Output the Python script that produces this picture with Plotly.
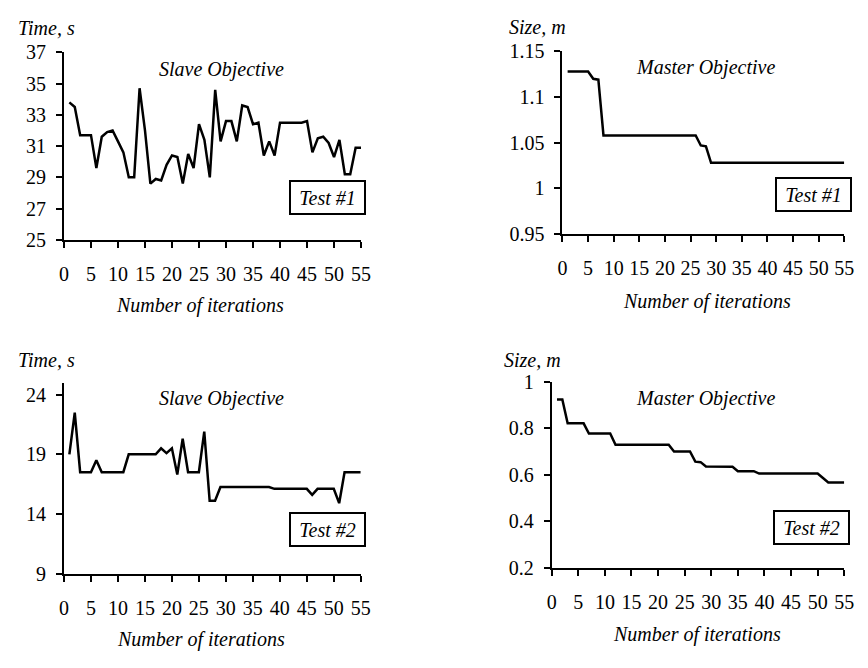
import plotly.graph_objects as go

# ---------------- data ----------------
iterations = list(range(1, 56))

slave_test1 = [33.8, 33.5, 31.7, 31.7, 31.7, 29.6, 31.6, 31.9, 32.0, 31.3,
               30.6, 29.0, 29.0, 34.7, 32.0, 28.6, 28.9, 28.8, 29.8, 30.4,
               30.3, 28.6, 30.5, 29.6, 32.4, 31.4, 29.0, 34.6, 31.3, 32.6,
               32.6, 31.3, 33.6, 33.5, 32.4, 32.5, 30.4, 31.3, 30.4, 32.5,
               32.5, 32.5, 32.5, 32.5, 32.6, 30.6, 31.5, 31.6, 31.2, 30.3,
               31.4, 29.2, 29.2, 30.9, 30.9]

master_test1 = [1.128, 1.128, 1.128, 1.128, 1.128, 1.120, 1.119, 1.058, 1.058, 1.058,
                1.058, 1.058, 1.058, 1.058, 1.058, 1.058, 1.058, 1.058, 1.058, 1.058,
                1.058, 1.058, 1.058, 1.058, 1.058, 1.058, 1.047, 1.046, 1.028, 1.028,
                1.028, 1.028, 1.028, 1.028, 1.028, 1.028, 1.028, 1.028, 1.028, 1.028,
                1.028, 1.028, 1.028, 1.028, 1.028, 1.028, 1.028, 1.028, 1.028, 1.028,
                1.028, 1.028, 1.028, 1.028, 1.028]

slave_test2 = [19.0, 22.5, 17.5, 17.5, 17.5, 18.5, 17.5, 17.5, 17.5, 17.5,
               17.5, 19.0, 19.0, 19.0, 19.0, 19.0, 19.0, 19.5, 19.1, 19.5,
               17.3, 20.3, 17.5, 17.5, 17.5, 20.9, 15.1, 15.1, 16.25, 16.25,
               16.25, 16.25, 16.25, 16.25, 16.25, 16.25, 16.25, 16.25, 16.1, 16.1,
               16.1, 16.1, 16.1, 16.1, 16.1, 15.6, 16.1, 16.1, 16.1, 16.1,
               14.9, 17.5, 17.5, 17.5, 17.5]

master_test2 = [0.923, 0.923, 0.821, 0.821, 0.821, 0.821, 0.777, 0.777, 0.777, 0.777,
                0.777, 0.729, 0.729, 0.729, 0.729, 0.729, 0.729, 0.729, 0.729, 0.729,
                0.729, 0.729, 0.700, 0.700, 0.700, 0.700, 0.656, 0.654, 0.635, 0.635,
                0.635, 0.635, 0.635, 0.634, 0.615, 0.615, 0.615, 0.615, 0.605, 0.605,
                0.605, 0.605, 0.605, 0.605, 0.605, 0.605, 0.605, 0.605, 0.605, 0.605,
                0.586, 0.567, 0.567, 0.567, 0.567]

x_ticks = [0, 5, 10, 15, 20, 25, 30, 35, 40, 45, 50, 55]
y_ticks_time1 = [25, 27, 29, 31, 33, 35, 37]
y_ticks_size1 = [0.95, 1.0, 1.05, 1.1, 1.15]
y_ticks_size1_text = ["0.95", "1", "1.05", "1.1", "1.15"]
y_ticks_time2 = [9, 14, 19, 24]
y_ticks_size2 = [0.2, 0.4, 0.6, 0.8, 1.0]
y_ticks_size2_text = ["0.2", "0.4", "0.6", "0.8", "1"]

# ---------------- layout helpers ----------------
W, H = 868, 668
FONT = "Liberation Serif, Times New Roman, Times, serif"
FS = 20


def px_x(p):
    return p / W


def px_y(p):
    return 1 - p / H


fig = go.Figure()

panels = [
    # (xaxis, yaxis, y data, x pixel domain, y pixel domain(bottom, top))
    ("x", "y", slave_test1, (60, 362.3), (236.7, 42.7)),
    ("x2", "y2", master_test1, (567.3, 854), (230.7, 41.7)),
    ("x3", "y3", slave_test2, (60, 362), (581.7, 384.4)),
    ("x4", "y4", master_test2, (556.3, 854), (575.7, 383.3)),
]

for xa, ya, ydata, _, _ in panels:
    fig.add_trace(go.Scatter(x=iterations, y=ydata, mode="lines",
                             line=dict(color="black", width=2.5),
                             xaxis=xa, yaxis=ya, showlegend=False,
                             hoverinfo="skip"))

axis_common = dict(showline=True, linecolor="black", linewidth=2,
                   ticks="outside", ticklen=6, tickwidth=2, tickcolor="black",
                   showgrid=False, zeroline=False,
                   tickfont=dict(family=FONT, size=FS, color="black"))

y_specs = [
    dict(range=[25, 37], tickvals=y_ticks_time1, ticktext=[str(v) for v in y_ticks_time1]),
    dict(range=[0.95, 1.15], tickvals=y_ticks_size1, ticktext=y_ticks_size1_text),
    dict(range=[9, 25], tickvals=y_ticks_time2, ticktext=[str(v) for v in y_ticks_time2]),
    dict(range=[0.2, 1.0], tickvals=y_ticks_size2, ticktext=y_ticks_size2_text),
]

layout_axes = {}
for i, (xa, ya, _, xdom, ydom) in enumerate(panels):
    xname = "xaxis" if i == 0 else f"xaxis{i + 1}"
    yname = "yaxis" if i == 0 else f"yaxis{i + 1}"
    layout_axes[xname] = dict(axis_common, domain=[px_x(xdom[0]), px_x(xdom[1])],
                              range=[0, 55], tickvals=x_ticks,
                              anchor=ya, ticklabelstandoff=9)
    layout_axes[yname] = dict(axis_common, domain=[px_y(ydom[0]), px_y(ydom[1])],
                              anchor=xa, ticklabelstandoff=6, **y_specs[i])

fig.update_layout(**layout_axes)

annots = []


def text(t, cx, cy, box=False):
    d = dict(text=t, x=px_x(cx), y=px_y(cy), xref="paper", yref="paper",
             xanchor="center", yanchor="middle", showarrow=False,
             font=dict(family=FONT, size=FS, color="black"))
    if box:
        d.update(bordercolor="black", borderwidth=2, borderpad=1,
                 width=71, height=29, bgcolor="white")
    annots.append(d)


text("<i>Time, s</i>", 42, 18)
text("<i>Size, m</i>", 542, 17)
text("<i>Time, s</i>", 42, 361)
text("<i>Size, m</i>", 537, 361)
text("<i>Number of iterations</i>", 198, 305)
text("<i>Number of iterations</i>", 714, 300)
text("<i>Number of iterations</i>", 199, 650)
text("<i>Number of iterations</i>", 704, 645)
text("<i>Slave Objective</i>", 220, 61)
text("<i>Slave Objective</i>", 220, 401)
text("<i>Master Objective</i>", 713, 58)
text("<i>Master Objective</i>", 713, 401)
text("<i>Test #1</i>", 328, 192.5, box=True)
text("<i>Test #1</i>", 823, 190, box=True)
text("<i>Test #2</i>", 328, 536, box=True)
text("<i>Test #2</i>", 820.5, 534, box=True)

fig.update_layout(width=W, height=H, margin=dict(l=0, r=0, t=0, b=0),
                  paper_bgcolor="white", plot_bgcolor="white",
                  annotations=annots,
                  font=dict(family=FONT, size=FS, color="black"))

fig.write_html("out.html",
               config={"displayModeBar": False},
               post_script="document.body.style.margin='0';"
                           "document.body.style.overflow='hidden';")
